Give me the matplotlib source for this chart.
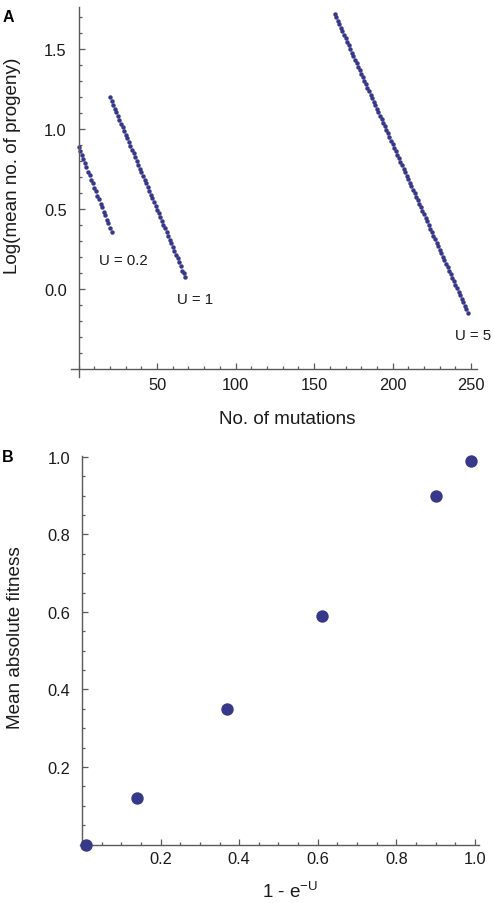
import matplotlib
matplotlib.use("Agg")
import matplotlib.pyplot as plt
import numpy as np

plt.rcParams['font.family'] = ['Liberation Sans', 'DejaVu Sans']
plt.rcParams['mathtext.fontset'] = 'custom'
plt.rcParams['mathtext.rm'] = 'Liberation Sans'
plt.rcParams['mathtext.it'] = 'Liberation Sans'

# Panel A - log(mean no. of progeny) against no. of mutations, one run per U
mut_u02 = np.arange(0, 22)
logp_u02 = [0.89, 0.86, 0.84, 0.81, 0.79, 0.76, 0.73, 0.71, 0.68, 0.66, 0.63,
            0.61, 0.58, 0.56, 0.53, 0.51, 0.48, 0.46, 0.43, 0.41, 0.38, 0.355]

mut_u1 = np.arange(20, 69)
logp_u1 = [1.198, 1.175, 1.151, 1.128, 1.104, 1.081, 1.058, 1.034, 1.011, 0.987,
           0.964, 0.941, 0.917, 0.894, 0.870, 0.847, 0.824, 0.800, 0.777, 0.753,
           0.730, 0.707, 0.683, 0.660, 0.636, 0.613, 0.590, 0.566, 0.543, 0.519,
           0.496, 0.473, 0.449, 0.426, 0.402, 0.379, 0.356, 0.332, 0.309, 0.285,
           0.262, 0.239, 0.215, 0.192, 0.168, 0.145, 0.115, 0.100, 0.077]

mut_u5 = np.arange(163, 249)
logp_u5 = [1.720, 1.698, 1.676, 1.654, 1.632, 1.610, 1.588, 1.566, 1.544, 1.522,
           1.500, 1.478, 1.456, 1.434, 1.412, 1.390, 1.368, 1.346, 1.324, 1.302,
           1.280, 1.258, 1.236, 1.214, 1.192, 1.170, 1.148, 1.126, 1.104, 1.082,
           1.060, 1.038, 1.016, 0.994, 0.972, 0.950, 0.928, 0.906, 0.884, 0.862,
           0.840, 0.818, 0.796, 0.774, 0.752, 0.730, 0.708, 0.686, 0.664, 0.642,
           0.620, 0.598, 0.576, 0.554, 0.532, 0.510, 0.488, 0.466, 0.444, 0.422,
           0.400, 0.378, 0.356, 0.334, 0.312, 0.290, 0.268, 0.246, 0.224, 0.202,
           0.180, 0.158, 0.136, 0.114, 0.092, 0.070, 0.048, 0.026, 0.004, -0.018,
           -0.040, -0.062, -0.084, -0.106, -0.128, -0.150]

run_labels = ["U = 0.2", "U = 1", "U = 5"]
label_x = [28.6, 74, 251.5]
label_y = [0.18, -0.06, -0.29]

# Panel B - mean absolute fitness against 1 - e^-U
one_minus_eu = [0.01, 0.14, 0.37, 0.61, 0.90, 0.99]
mean_fitness = [0.0, 0.12, 0.35, 0.59, 0.90, 0.99]

dot = "#38388a"
axcol = "#5a5a5a"
txtcol = "#1a1a1a"

fig = plt.figure(figsize=(4.94, 9.04), dpi=100)
axA = fig.add_axes([0.1432, 0.5819, 0.8232, 0.4088])
axB = fig.add_axes([0.1619, 0.0604, 0.8077, 0.4343])


def style(ax, xorig, yorig):
    for s in ["top", "right"]:
        ax.spines[s].set_visible(False)
    ax.spines["left"].set_position(("data", xorig))
    ax.spines["bottom"].set_position(("data", yorig))
    for s in ["left", "bottom"]:
        ax.spines[s].set_color(axcol)
        ax.spines[s].set_linewidth(1.0)
    ax.tick_params(which="both", direction="in", color=axcol, width=0.9,
                   labelsize=11.8, labelcolor=txtcol)
    ax.tick_params(which="major", length=4.5)
    ax.tick_params(which="minor", length=2.5)
    ax.tick_params(axis="y", pad=8.5)
    ax.tick_params(axis="x", pad=6)


for xs, ys in [(mut_u02, logp_u02), (mut_u1, logp_u1), (mut_u5, logp_u5)]:
    axA.plot(xs, ys, linestyle="none", marker="o", ms=3.2, mew=0, color=dot)
for t, lx, ly in zip(run_labels, label_x, label_y):
    axA.text(lx, ly, t, ha="center", va="center", fontsize=10.8, color=txtcol)

axA.set_xlim(-5, 254)
axA.set_ylim(-0.55, 1.76)
style(axA, 0, -0.5)
axA.set_xticks([50, 100, 150, 200, 250])
axA.set_xticks(np.arange(0, 251, 10), minor=True)
axA.set_yticks([0.0, 0.5, 1.0, 1.5])
axA.set_yticks(np.arange(-0.4, 1.75, 0.1), minor=True)
axA.yaxis.set_major_formatter(matplotlib.ticker.FormatStrFormatter("%.1f"))

axB.scatter(one_minus_eu, mean_fitness, s=80, color=dot, zorder=3, clip_on=False,
            linewidths=0)
axB.set_xlim(-0.005, 1.01)
axB.set_ylim(-0.01, 1.003)
style(axB, 0, 0)
axB.tick_params(axis="x", pad=5)
axB.set_xticks([0.2, 0.4, 0.6, 0.8, 1.0])
axB.set_xticks(np.arange(0.05, 1.001, 0.05), minor=True)
axB.set_yticks([0.2, 0.4, 0.6, 0.8, 1.0])
axB.set_yticks(np.arange(0.05, 1.001, 0.05), minor=True)
axB.yaxis.set_major_formatter(matplotlib.ticker.FormatStrFormatter("%.1f"))
axB.xaxis.set_major_formatter(matplotlib.ticker.FormatStrFormatter("%.1f"))

# axis titles and panel letters
fig.text(287 / 494, 1 - 420 / 904, "No. of mutations", ha="center", va="center",
         fontsize=13.6, color=txtcol)
fig.text(13 / 494, 1 - 166 / 904, "Log(mean no. of progeny)", ha="center",
         va="center", rotation=90, fontsize=13.6, color=txtcol)
fig.text(16 / 494, 1 - 638 / 904, "Mean absolute fitness", ha="center",
         va="center", rotation=90, fontsize=13.6, color=txtcol)
fig.text(290 / 494, 1 - 902 / 904, r"1 - e$^{\mathrm{-U}}$", ha="center",
         va="bottom", fontsize=13.6, color=txtcol)
fig.text(3 / 494, 1 - 10 / 904, "A", ha="left", va="top", fontsize=11.5,
         fontweight="bold", color="black")
fig.text(2 / 494, 1 - 450 / 904, "B", ha="left", va="top", fontsize=11.5,
         fontweight="bold", color="black")

fig.savefig("out.png", dpi=100)
